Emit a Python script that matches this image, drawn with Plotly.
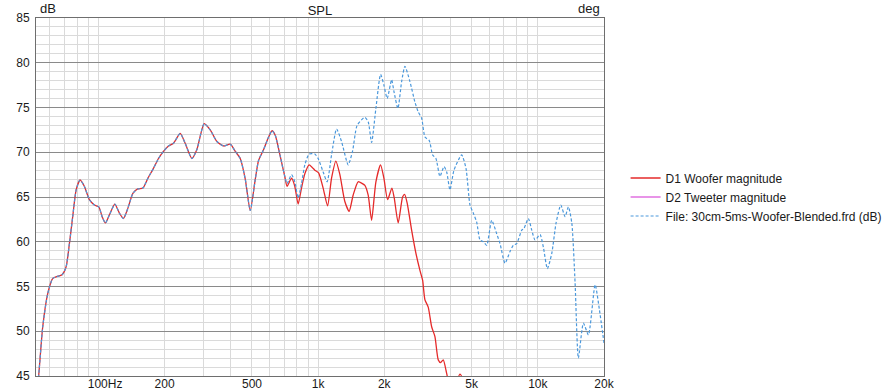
import math
import plotly.graph_objects as go

# ---- data ----
freq_common = [51.5, 53.5, 55.8, 58.8, 62.0, 64.6, 68.3, 71.3, 73.8, 76.4, 79.2, 82.5, 86.3, 91, 95.9,
               100.4, 104, 107.6, 112.2, 118.8, 124.6, 130, 136, 143.5, 151, 159.4, 168, 178, 187.7,
               197.8, 208.4, 219.6, 235.6, 248.3, 266.4, 280.7, 303, 322.8, 346.3, 371.1, 398.1,
               419.6, 442.1, 466, 491, 517.6, 536, 565, 595, 617, 638, 673, 705]
db_common = [41.5, 45.1, 50.5, 54.2, 55.9, 56.1, 56.3, 57.2, 59.8, 62.8, 65.8, 66.9, 66.2, 64.7, 64.1,
             63.9, 62.8, 62.1, 63.0, 64.2, 63.2, 62.6, 63.7, 65.4, 65.9, 66.0, 67.1, 68.2, 69.3,
             70.1, 70.7, 71.0, 72.1, 71.0, 69.3, 70.3, 73.2, 72.5, 71.2, 70.7, 70.9,
             70.1, 69.3, 67.0, 63.5, 67.0, 69.1, 70.3, 71.7, 72.4, 71.9, 69.5, 67.3]

freq_woofer_hi = [722, 757, 783, 811, 840, 870, 910, 940, 966, 1005, 1054, 1104, 1151, 1204, 1256,
                  1323, 1384, 1443, 1521, 1590, 1632, 1690, 1751, 1832, 1924, 1992, 2071, 2166, 2220,
                  2314, 2423, 2476, 2544, 2664, 2787, 2906, 2989, 3063, 3170, 3286, 3401, 3521, 3611,
                  3711, 3846, 3981, 4195, 4421, 4660, 4911]
db_woofer_hi = [66.2, 67.1, 66.2, 64.2, 66.0, 67.6, 68.6, 68.3, 68.0, 67.7, 66.0, 64.0, 67.1, 69.0, 67.5,
                64.5, 63.4, 65.2, 66.7, 66.5, 66.3, 65.2, 62.4, 66.7, 68.6, 67.1, 64.7, 66.0, 64.9,
                62.1, 65.0, 65.3, 64.3, 61.3, 58.7, 56.8, 55.7, 53.5, 52.7, 50.5, 49.4, 46.8, 46.5,
                46.8, 45.3, 43.8, 44.0, 45.2, 44.0, 41.5]

freq_file_hi = [722, 757, 783, 811, 840, 870, 910, 966, 1000, 1054, 1099, 1151, 1213, 1278, 1370,
                1434, 1505, 1632, 1690, 1751, 1832, 1924, 1992, 2062, 2160, 2213, 2307, 2399, 2483,
                2617, 2758, 2855, 2959, 3063, 3204, 3320, 3437, 3584, 3739, 3846, 3981, 4152, 4500,
                4709, 4911, 5084, 5268, 5454, 5646, 5851, 6166, 6496, 6726, 7088, 7469, 7733, 8014,
                8448, 8653, 9051, 9380, 9710, 10233, 10593, 11048, 11571, 12104, 12720, 13301, 13772,
                14270, 14772, 15292, 16119, 16989, 18222, 19062, 20000]
db_file_hi = [66.5, 67.5, 66.7, 64.9, 66.5, 68.6, 69.8, 69.8, 69.3, 67.8, 66.7, 69.7, 72.6, 71.2, 68.6,
              70.1, 73.0, 73.9, 73.4, 71.1, 74.9, 78.7, 77.5, 76.0, 78.1, 76.8, 74.9, 77.9, 79.6,
              77.9, 75.6, 74.5, 73.8, 71.7, 71.3, 69.7, 69.3, 67.3, 68.4, 67.8, 65.8, 68.0, 69.7,
              68.2, 64.1, 63.2, 62.2, 60.2, 60.0, 59.6, 62.4, 60.9, 59.8, 57.6, 58.9, 59.6, 59.8,
              61.3, 61.5, 62.6, 61.3, 60.2, 60.8, 59.4, 57.0, 58.7, 62.1, 64.1, 62.8, 63.9,
              62.1, 55.4, 47.0, 50.9, 49.6, 55.2, 52.4, 48.7]

# tweeter magnitude is not visible anywhere in the plotted range: no readable values
freq_tweeter = [1000]
db_tweeter = [None]

x_tick_vals = [100, 200, 500, 1000, 2000, 5000, 10000, 20000]
x_tick_text = ["\u00a0\u00a0\u00a0\u00a0100Hz", "200", "500", "1k", "2k", "5k", "10k", "20k"]
x_minor_vals = [60, 70, 80, 90, 300, 400, 600, 700, 800, 900,
                3000, 4000, 6000, 7000, 8000, 9000]
x_decades = [100, 1000, 10000]
db_ticks = [45, 50, 55, 60, 65, 70, 75, 80, 85]
deg_ticks = [-180, -135, -90, -45, 0, 45, 90, 135, 180]
deg_text = ["-180", "-135", "\u2007-90", "\u2007-45", "\u2007\u20070", "\u2007\u200545",
            "\u2007\u200590", "135", "180"]

x_min, x_max = 52.0, 20000.0

# ---- figure ----
FONT = "Liberation Sans, Arial, sans-serif"
MAJOR = "#8a8a8a"
MINOR = "#dadada"

fig = go.Figure()
fig.add_trace(go.Scatter(
    x=freq_common + freq_woofer_hi, y=db_common + db_woofer_hi,
    name="D1 Woofer magnitude", mode="lines",
    line=dict(color="#e52a2a", width=1.3, shape="spline", smoothing=0.6)))
fig.add_trace(go.Scatter(
    x=freq_tweeter, y=db_tweeter, name="D2 Tweeter magnitude", mode="lines",
    line=dict(color="#e070e0", width=1.3), showlegend=True))
fig.add_trace(go.Scatter(
    x=freq_common + freq_file_hi, y=db_common + db_file_hi,
    name="File: 30cm-5ms-Woofer-Blended.frd (dB)", mode="lines",
    line=dict(color="#4a98dc", width=1.2, dash="3px,2px", shape="spline", smoothing=0.6)))

fig.update_layout(
    width=895, height=391,
    margin=dict(l=36, r=291, t=18, b=15, autoexpand=False),
    paper_bgcolor="white", plot_bgcolor="white",
    font=dict(family=FONT, size=12, color="#1a1a1a"),
    showlegend=True,
    legend=dict(x=1.038, xanchor="left", y=0.5, yanchor="middle",
                font=dict(family=FONT, size=12, color="#1a1a1a"),
                bgcolor="rgba(0,0,0,0)", borderwidth=0, tracegroupgap=0),
    xaxis=dict(type="log", range=[math.log10(x_min), math.log10(x_max)],
               tickmode="array", tickvals=x_tick_vals, ticktext=x_tick_text,
               showgrid=True, gridcolor=MINOR, gridwidth=1, automargin=False,
               minor=dict(tickmode="array", tickvals=x_minor_vals, showgrid=True,
                          gridcolor=MINOR, gridwidth=1, ticks=""),
               showline=True, mirror=True, linecolor="#6e6e6e", linewidth=1,
               ticks="", zeroline=False, tickfont=dict(size=12), ticklabelstandoff=-3),
    xaxis2=dict(type="log", range=[math.log10(x_min), math.log10(x_max)],
                overlaying="x", anchor="y", tickmode="array", tickvals=x_decades,
                showticklabels=False, showgrid=True, gridcolor=MAJOR, gridwidth=1,
                ticks="", zeroline=False, showline=False, automargin=False),
    yaxis=dict(range=[45, 85], tickmode="array", tickvals=db_ticks,
               showgrid=True, gridcolor=MAJOR, gridwidth=1, automargin=False,
               minor=dict(dtick=1, showgrid=True, gridcolor=MINOR, gridwidth=1, ticks=""),
               showline=True, mirror=True, linecolor="#6e6e6e", linewidth=1,
               ticks="", zeroline=False, ticklabelstandoff=3),
    yaxis2=dict(range=[-180, 180], overlaying="y", side="right", anchor="x",
                tickmode="array", tickvals=deg_ticks, ticktext=deg_text, automargin=False,
                showgrid=False, ticks="", zeroline=False, showline=False,
                ticklabelstandoff=8),
    title=dict(text="SPL", x=0.5 * (36 + 604) / 895, xanchor="center",
               y=1 - 10 / 391, yanchor="middle", automargin=False,
               font=dict(family=FONT, size=13, color="#1a1a1a")),
    annotations=[
        dict(text="dB", xref="paper", yref="paper", x=0.003, y=1.0, xanchor="left",
             yanchor="bottom", showarrow=False, font=dict(size=13)),
        dict(text="deg", xref="paper", yref="paper", x=0.997, y=1.0, xanchor="right",
             yanchor="bottom", showarrow=False, font=dict(size=13)),
    ],
)

fig.write_html("out.html", config={"displayModeBar": False},
               post_script="document.body.style.margin='0';")
